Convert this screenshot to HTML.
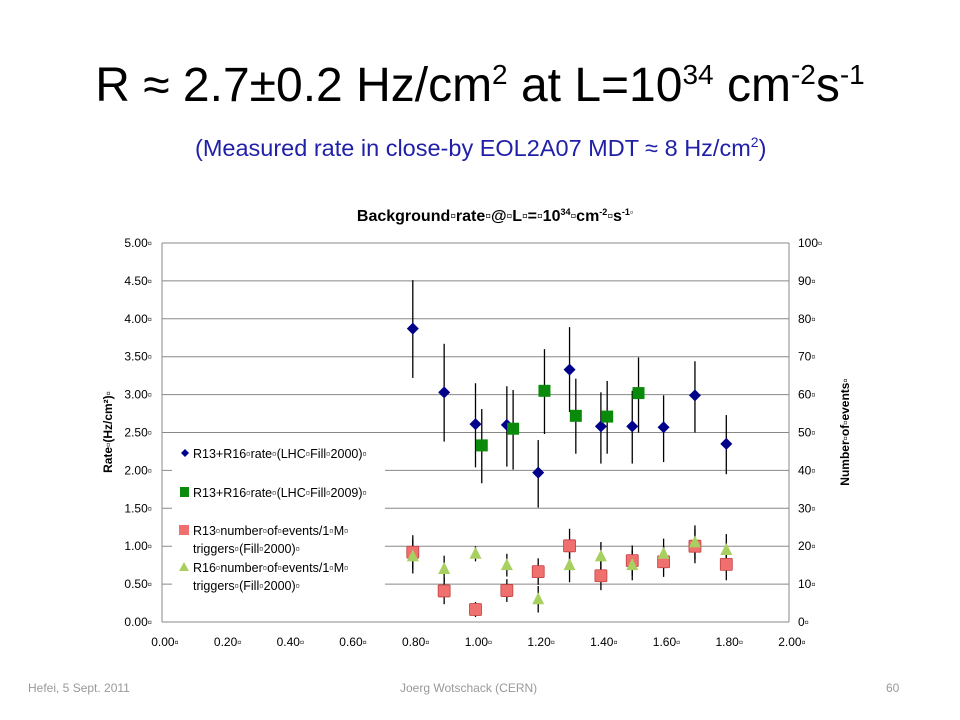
<!DOCTYPE html>
<html><head><meta charset="utf-8">
<style>
body{margin:0;width:960px;height:720px;background:#fff;font-family:"Liberation Sans",sans-serif;overflow:hidden;position:relative}
.t{position:absolute;white-space:nowrap}
</style></head>
<body>
<div class="t" style="left:0;width:960px;text-align:center;top:58px;font-size:48px;color:#000">R ≈ 2.7±0.2 Hz/cm<sup style="font-size:28px">2</sup> at L=10<sup style="font-size:28px">34</sup> cm<sup style="font-size:28px">-2</sup>s<sup style="font-size:28px">-1</sup></div>
<div class="t" style="left:195px;top:134px;font-size:23.5px;color:#1f1fa8">(Measured rate in close-by EOL2A07 MDT ≈ 8 Hz/cm<sup style="font-size:14px">2</sup>)</div>
<div class="t" style="left:28px;top:681px;font-size:12px;color:#999">Hefei, 5 Sept. 2011</div>
<div class="t" style="left:400px;top:681px;font-size:12px;color:#999">Joerg Wotschack (CERN)</div>
<div class="t" style="left:886px;top:681px;font-size:12px;color:#999">60</div>
<svg id="chart" width="960" height="720" style="position:absolute;left:0;top:0" font-family="Liberation Sans, sans-serif"></svg>
<script>
const xTicks=["0.00","0.20","0.40","0.60","0.80","1.00","1.20","1.40","1.60","1.80","2.00"];
const yTicks=["0.00","0.50","1.00","1.50","2.00","2.50","3.00","3.50","4.00","4.50","5.00"];
const y2Ticks=["0","10","20","30","40","50","60","70","80","90","100"];
const blueX=[0.8,0.9,1.0,1.1,1.2,1.3,1.4,1.5,1.6,1.7,1.8];
const blueY=[3.87,3.03,2.61,2.60,1.97,3.33,2.58,2.58,2.57,2.99,2.35];
const blueHi=[4.51,3.67,3.15,3.11,2.40,3.89,3.03,3.05,2.99,3.44,2.73];
const blueLo=[3.22,2.38,2.04,2.05,1.51,2.77,2.09,2.09,2.11,2.50,1.95];
const greenX=[1.02,1.12,1.22,1.32,1.42,1.52];
const greenY=[2.33,2.55,3.05,2.72,2.71,3.02];
const greenHi=[2.81,3.06,3.60,3.21,3.18,3.49];
const greenLo=[1.83,2.01,2.48,2.22,2.22,2.50];
const countX=[0.8,0.9,1.0,1.1,1.2,1.3,1.4,1.5,1.6,1.7,1.8];
const redN=[18.4,8.2,3.3,8.3,13.3,20.1,12.2,16.2,15.9,20.0,15.2];
const triN=[17.3,14,18,15,6,15,17.3,15,18,21,19];
const nErr=[4.5,3.5,2,3,3.5,4.5,3.8,4,4,4.5,4.2];
const NS="http://www.w3.org/2000/svg";
const svg=document.getElementById('chart');
const X0=162,X1=789,Y0=622,Y1=243;
const sx=v=>X0+(v/2)*(X1-X0);
const sy=v=>Y0-(v/5)*(Y0-Y1);
const sy2=v=>Y0-(v/100)*(Y0-Y1);
function mk(tag,attrs,parent){const e=document.createElementNS(NS,tag);for(const k in attrs)e.setAttribute(k,attrs[k]);(parent||svg).appendChild(e);return e;}
yTicks.forEach((t,i)=>{const v=parseFloat(t);const y=sy(v);
 const g=mk('line',{x1:X0,x2:X1,y1:y,y2:y,stroke:'#888','stroke-width':1});
 
 const tx=mk('text',{x:152,y:y+4,'font-size':12,'text-anchor':'end',fill:'#000'});tx.textContent=t+"▫";
 
});
y2Ticks.forEach((t,i)=>{const y=sy2(parseFloat(t));
 const tx=mk('text',{x:798,y:y+4,'font-size':12,fill:'#000'});tx.textContent=t+"▫";
 
});
xTicks.forEach(t=>{const x=sx(parseFloat(t));
 const tx=mk('text',{x:x+3,y:646,'font-size':12,'text-anchor':'middle',fill:'#000'});tx.textContent=t+"▫";
 
});
const ax=mk('line',{x1:X0,x2:X0,y1:Y1,y2:Y0,stroke:'#888'});
const ax2=mk('line',{x1:X1,x2:X1,y1:Y1,y2:Y0,stroke:'#888'});
const lb=mk('rect',{x:172,y:440,width:213,height:162,fill:'#fff'});
const ct=mk('text',{x:495,y:221,'font-size':16,'font-weight':'bold','text-anchor':'middle'});ct.innerHTML='Background▫rate▫@▫L▫=▫10<tspan font-size="9" dy="-6">34</tspan><tspan dy="6">▫cm</tspan><tspan font-size="9" dy="-6">-2</tspan><tspan dy="6">▫s</tspan><tspan font-size="9" dy="-6">-1▫</tspan>';

const yt=mk('text',{x:0,y:0,'font-size':12,'font-weight':'bold','text-anchor':'middle',transform:'translate(112,432) rotate(-90)'});yt.textContent='Rate▫(Hz/cm²)▫';

const yt2=mk('text',{x:0,y:0,'font-size':12,'font-weight':'bold','text-anchor':'middle',transform:'translate(849,432) rotate(-90)'});yt2.textContent='Number▫of▫events▫';

function eb(x,y1,y2){const l=mk('line',{x1:x,x2:x,y1:y1,y2:y2,stroke:'#000','stroke-width':1.3});}
function diamond(x,y){const p=mk('polygon',{points:`${x},${y-6} ${x+6},${y} ${x},${y+6} ${x-6},${y}`,fill:'#00008b'});}
function square(x,y){const p=mk('rect',{x:x-6,y:y-6,width:12,height:12,fill:'#0a8a0a'});}
function rsq(x,y){const p=mk('rect',{x:x-6,y:y-6,width:12,height:12,fill:'#f07070',stroke:'#c04040','stroke-width':0.8,rx:1});}
function tri(x,y){const p=mk('polygon',{points:`${x},${y-7} ${x+6},${y+5} ${x-6},${y+5}`,fill:'#a8d060'});}
blueX.forEach((v,i)=>eb(sx(v),sy(blueHi[i]),sy(blueLo[i])));
greenX.forEach((v,i)=>eb(sx(v),sy(greenHi[i]),sy(greenLo[i])));
countX.forEach((v,i)=>{eb(sx(v),sy2(redN[i]+nErr[i]),sy2(Math.max(0,redN[i]-nErr[i])));eb(sx(v),sy2(triN[i]+nErr[i]),sy2(Math.max(0,triN[i]-nErr[i])));});
blueX.forEach((v,i)=>diamond(sx(v),sy(blueY[i])));
greenX.forEach((v,i)=>square(sx(v),sy(greenY[i])));
countX.forEach((v,i)=>rsq(sx(v),sy2(redN[i])));
countX.forEach((v,i)=>tri(sx(v),sy2(triN[i])));
function lt(y,s,n){const t=mk('text',{x:193,y:y,'font-size':12.5});t.textContent=s;}
mk('polygon',{points:'185,449 189,453 185,457 181,453',fill:'#00008b'});
lt(458,'R13+R16▫rate▫(LHC▫Fill▫2000)▫','legend-entry-fill2000');
mk('rect',{x:180,y:487,width:9,height:10,fill:'#0a8a0a'});
lt(497,'R13+R16▫rate▫(LHC▫Fill▫2009)▫','legend-entry-fill2009');
mk('rect',{x:179,y:525,width:10,height:10,fill:'#f07070'});
lt(535,'R13▫number▫of▫events/1▫M▫','legend-entry-r13');
lt(553,'triggers▫(Fill▫2000)▫','legend-entry-r13-2');
mk('polygon',{points:'184,562 189,571 179,571',fill:'#a8d060'});
lt(572,'R16▫number▫of▫events/1▫M▫','legend-entry-r16');
lt(590,'triggers▫(Fill▫2000)▫','legend-entry-r16-2');
</script>
</body></html>
